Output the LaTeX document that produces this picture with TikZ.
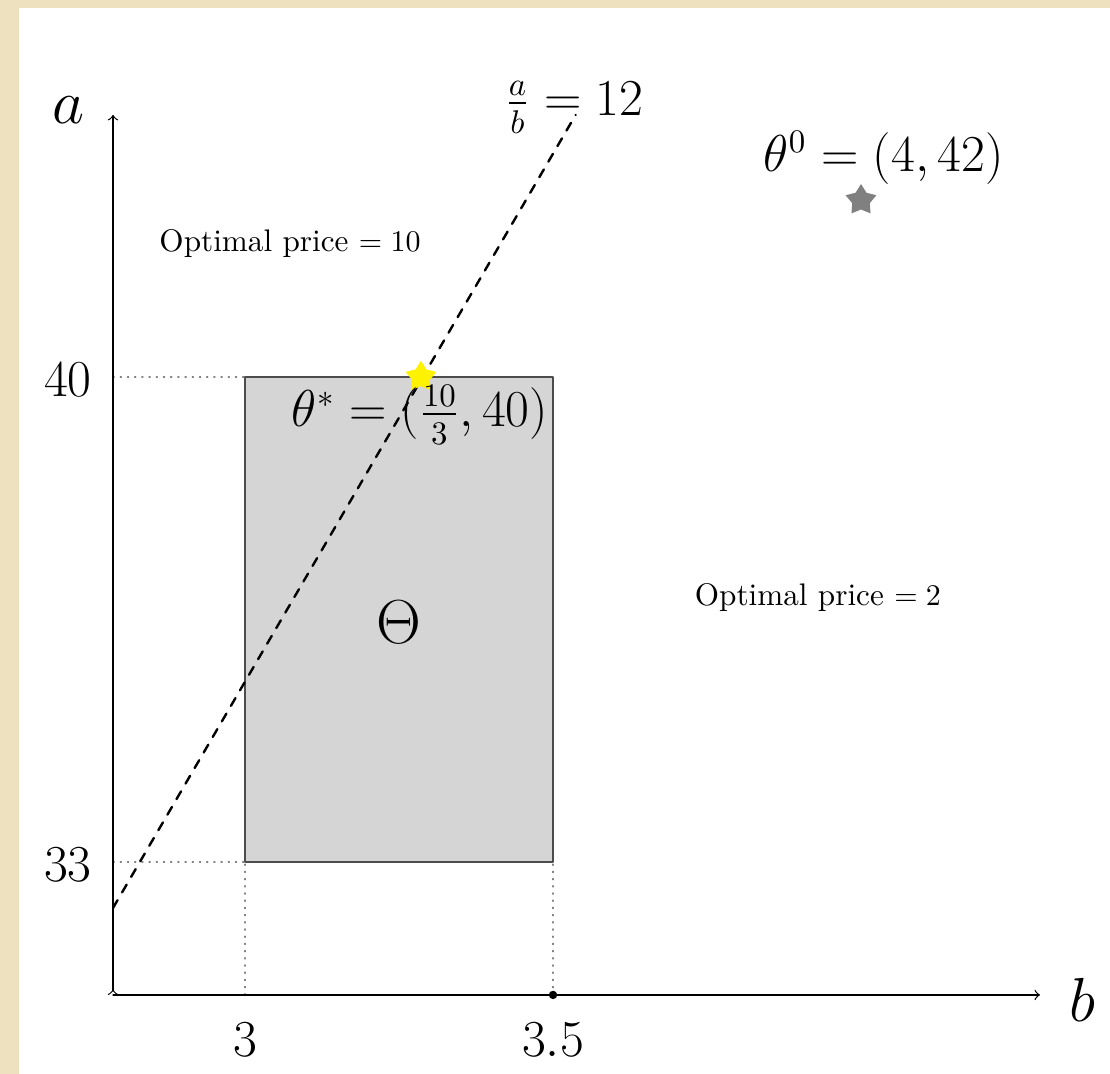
\documentclass[tikz,border=0pt]{standalone}
\usepackage{amsmath,amssymb}
\usetikzlibrary{shapes.geometric}
\definecolor{parchment}{RGB}{238,225,192}
\definecolor{boxgray}{RGB}{213,213,213}
\tikzset{
  optstar/.style={star, star points=5, star point ratio=1.75, minimum size=0.38cm, inner sep=0pt},
  guide/.style={gray, dotted},
  plain/.style={font=\fontsize{10.4}{12.5}\selectfont}
}

\begin{document}
\begin{tikzpicture}[>=to, font=\fontsize{16}{19}\selectfont, line join=round, line cap=round]
        \def\bmin{1.546} \def\bmax{5.155} \def\amin{1.558} \def\amax{7.24}
        \def\xmax{10.86} \def\ymax{10.31}
        % page with its parchment edge
        \fill[parchment] (-1.324,-0.925) rectangle (11.68,11.656);
        \fill[white] (-1.101,-0.925) rectangle (11.68,11.56);
        \useasboundingbox (-1.324,-0.925) rectangle (11.68,11.656);
        % the set Theta
        \draw[black!70, fill=boxgray] (\bmin,\amin) rectangle (\bmax,\amax);
        \draw[guide] (0,\amax) -- (\bmin,\amax) (0,\amin) -- (\bmin,\amin);
        \draw[guide] (\bmin,0) -- (\bmin,\amin) (\bmax,0) -- (\bmax,\amin);
        % axes
        \coordinate (O) at (0,0);
        \coordinate (bend) at (\xmax,0);
        \coordinate (aend) at (0,\ymax);
        \draw[->] (O) -- (bend);
        \draw[>->] (O) -- (aend);
        \node (labb) at (11.36,-0.06) {\huge $b$};
        \node (laba) at (-0.527,10.37) {\huge $a$};
        \node (t3) at (\bmin,-0.527) {$3$};
        \node (t35) at (\bmax,-0.527) {$3.5$};
        \node (t40) at (-0.527,7.205) {$40$};
        \node (t33) at (-0.527,1.523) {$33$};
        \fill (\bmax,0) circle (1.4pt);
        % the line a/b = 12
        \coordinate (lo) at (0,1.019);
        \coordinate (hi) at (5.42,10.31);
        \draw[dashed, thick] (lo) -- (hi);
        \node (ratio) at (5.405,10.40) {$\frac{a}{b} = 12$};
        % points
        \node[optstar, fill=yellow] (tstar) at (3.608,\amax) {};
        \node (labstar) at (3.597,6.795) {$\theta^* = (\frac{10}{3}, 40)$};
        \node[optstar, fill=gray] (tzero) at (8.763,9.31) {};
        \node (labzero) at (9.03,9.81) {$\theta^0 = (4, 42)$};
        \node (theta) at (3.35,4.37) {\huge $\Theta$};
        \node[plain] (p10) at (2.074,8.80) {Optimal price $= 10$};
        \node[plain] (p2) at (8.259,4.65) {Optimal price $= 2$};
\end{tikzpicture}
\end{document}
